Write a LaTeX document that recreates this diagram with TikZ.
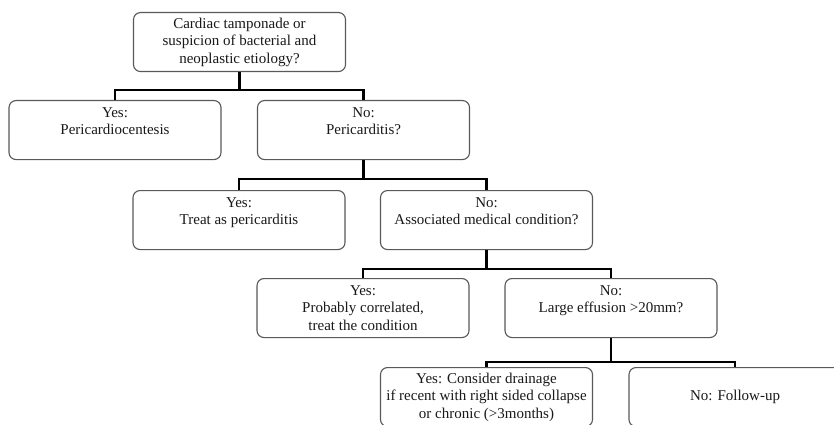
\documentclass[tikz,border=0pt]{standalone}
\usepackage{fontspec}
\setmainfont{Liberation Serif}
\usetikzlibrary{positioning}

\tikzset{
	choice/.style={draw=black!65, line width=1.1pt, rounded corners=7pt, fill=white,
		minimum width=212pt, minimum height=59pt, inner sep=2pt, align=center,
		anchor=north, text=black!90, font=\fontsize{15}{17.5}\selectfont},
	bar/.style={line width=2.6pt, black}
}

\begin{document}
\begin{tikzpicture}[x=1pt, y=-1pt]
		\useasboundingbox (0, 0) rectangle (834, 425);
		\clip (0, 0) rectangle (834, 425);
		%%Start of figure. boxes
			\node[choice] (q1) at (239.5, 12){Cardiac tamponade or\\suspicion of bacterial and\\neoplastic etiology?};
			
			\node[choice] (yes1) at (115, 100){Yes:\\Pericardiocentesis\\~};
			\node[choice] (no1) at (363.5, 100){No:\\Pericarditis?\\~};
			
			\node[choice] (yes2) at (239, 190){Yes:\\Treat as pericarditis\\~};
			\node[choice] (no2) at (486.5, 190){No:\\Associated medical condition?\\~};
			
			\node[choice] (yes3) at (363, 278){Yes:\\Probably correlated,\\treat the condition};
			\node[choice] (no3) at (611, 278){No:\\Large effusion >20mm?\\~};
			
			\node[choice] (yes4) at (486.5, 367){Yes: Consider drainage\\if recent with right sided collapse\\or chronic (>3months)};
			\node[choice] (no4) at (735, 367){No: Follow-up};
			
			%bars%
			\draw[bar](q1.south) -- ++(0, 18) coordinate (j1);
			\draw[bar](yes1.north) |- (j1) -| (no1.north);
			
			\draw[bar](no1.south) -- ++(0, 19) coordinate (j2);
			\draw[bar](yes2.north) |- (j2) -| (no2.north);
			
			\draw[bar](no2.south) -- ++(0, 19) coordinate (j3);
			\draw[bar](yes3.north) |- (j3) -| (no3.north);
			
			\draw[bar](no3.south) -- ++(0, 24) coordinate (j4);
			\draw[bar](yes4.north) |- (j4) -| (no4.north);
\end{tikzpicture}
\end{document}
